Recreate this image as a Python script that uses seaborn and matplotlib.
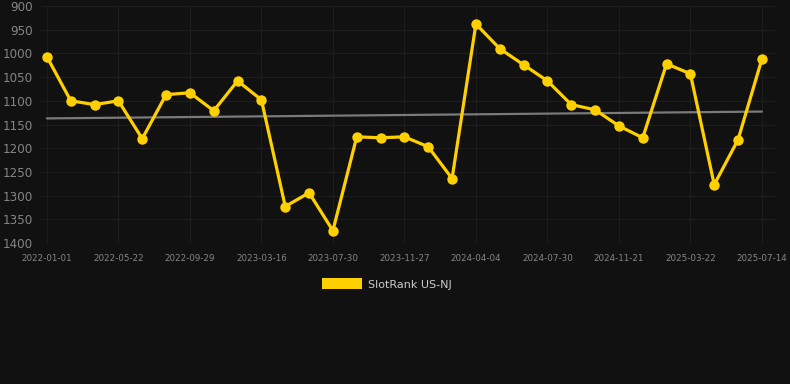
import numpy as np
import pandas as pd
import matplotlib
matplotlib.use("Agg")
import matplotlib.pyplot as plt
from matplotlib.patches import Patch
import seaborn as sns

# rank values (lower is better, axis is inverted)
ranks = [1007, 1100, 1108, 1100, 1180, 1087, 1083, 1121, 1058, 1098,
         1323, 1294, 1374, 1176, 1178, 1176, 1197, 1264, 938, 990,
         1024, 1058, 1108, 1119, 1153, 1178, 1022, 1043, 1277, 1182, 1012]
tick_labels = ["2022-01-01", "2022-05-22", "2022-09-29", "2023-03-16", "2023-07-30",
               "2023-11-27", "2024-04-04", "2024-07-30", "2024-11-21", "2025-03-22",
               "2025-07-14"]
y_ticks = [900, 950, 1000, 1050, 1100, 1150, 1200, 1250, 1300, 1350, 1400]
series_name = "SlotRank US-NJ"

df = pd.DataFrame({"idx": np.arange(len(ranks)), "rank": ranks})

sns.set_theme(style="dark")
plt.rcParams['font.family'] = ['DejaVu Sans']

bg = "#111111"
fig = plt.figure(figsize=(7.9, 3.84), dpi=100, facecolor=bg)
ax = fig.add_axes([40 / 790, 1 - 243 / 384, 735 / 790, 237 / 384])
ax.set_facecolor(bg)

# trend line
coef = np.polyfit(df["idx"], df["rank"], 1)
ax.plot(df["idx"], np.polyval(coef, df["idx"]), color="#7a7a7a", lw=1.6, zorder=2)

sns.lineplot(data=df, x="idx", y="rank", ax=ax, color="#FFD000", lw=2.3,
             marker="o", markersize=7.5, markeredgewidth=0, zorder=3)

ax.set_xlim(-0.29, 30.55)
ax.set_ylim(1400, 900)
ax.set_yticks(y_ticks)
ax.set_yticklabels([str(v) for v in y_ticks], color="#858585", fontsize=8.6)
ax.set_xticks(np.arange(0, len(ranks), 3))
ax.set_xticklabels(tick_labels, color="#858585", fontsize=6.3)
ax.tick_params(axis="both", length=0)
ax.tick_params(axis="x", pad=8)
ax.tick_params(axis="y", pad=5)
ax.set_xlabel("")
ax.set_ylabel("")
ax.grid(True, color="#1d1d1d", lw=0.8)
for s in ax.spines.values():
    s.set_visible(False)
ax.axhline(1400, color="#2a2a2a", lw=0.8)

handle = Patch(facecolor="#FFD000", edgecolor="none")
fig.legend([handle], [series_name], loc="center", bbox_to_anchor=(0.49, 1 - 284 / 384),
           frameon=False, fontsize=8, labelcolor="#cccccc",
           handlelength=3.6, handleheight=1.1, handletextpad=0.5)

fig.savefig("out.png", dpi=100, facecolor=bg)
